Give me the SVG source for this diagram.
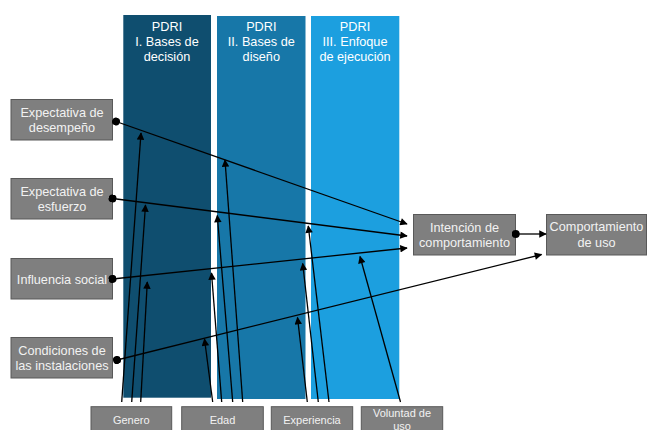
<svg xmlns="http://www.w3.org/2000/svg" width="647" height="430" viewBox="0 0 647 430">
<style>
.col{stroke:none}
.box{fill:#7f7f7f;stroke:#595959;stroke-width:1}
.t{font-family:"Liberation Sans",Arial,sans-serif;font-size:12.7px;fill:#f2f2f2;text-anchor:middle}
.ts{font-family:"Liberation Sans",Arial,sans-serif;font-size:11px;fill:#f2f2f2;text-anchor:middle}
.ct{font-family:"Liberation Sans",Arial,sans-serif;font-size:12.7px;fill:#ffffff;text-anchor:middle}
.c{fill:none;stroke:#000;stroke-width:1.3}
.a{marker-end:url(#arr)}
.d{marker-start:url(#dot)}
</style>
<defs>
<marker id="arr" viewBox="0 0 10 10" refX="9" refY="5" markerWidth="9" markerHeight="7.5" markerUnits="userSpaceOnUse" orient="auto">
<path d="M0,0 L10,5 L0,10 Z" fill="#000"/>
</marker>
<marker id="dot" viewBox="0 0 10 10" refX="5" refY="5" markerWidth="8" markerHeight="8" markerUnits="userSpaceOnUse" orient="auto">
<circle cx="5" cy="5" r="5" fill="#000"/>
</marker>
</defs>
<rect width="647" height="430" fill="#fff"/>

<g id="col1">
<rect class="col" x="123.3" y="15" width="87.7" height="382.7" fill="#0f4e6f"/>
<text class="ct" x="167" y="30.5">PDRI</text>
<text class="ct" x="167" y="45.5">I. Bases de</text>
<text class="ct" x="167" y="60.5">decisión</text>
</g>
<g id="col2">
<rect class="col" x="217" y="16" width="88.5" height="383" fill="#1777a8"/>
<text class="ct" x="261.3" y="31">PDRI</text>
<text class="ct" x="261.3" y="46">II. Bases de</text>
<text class="ct" x="261.3" y="61">diseño</text>
</g>
<g id="col3">
<rect class="col" x="311" y="16" width="88.3" height="383" fill="#1c9fdf"/>
<text class="ct" x="355" y="31">PDRI</text>
<text class="ct" x="355" y="46">III. Enfoque</text>
<text class="ct" x="355" y="61">de ejecución</text>
</g>

<g id="desempeno">
<rect class="box" x="11" y="99.5" width="101.5" height="40.5"/>
<text class="t" x="62" y="116.5">Expectativa de</text>
<text class="t" x="62" y="132">desempeño</text>
</g>
<g id="esfuerzo">
<rect class="box" x="11" y="178.5" width="101.5" height="40.5"/>
<text class="t" x="62" y="195.5">Expectativa de</text>
<text class="t" x="62" y="211">esfuerzo</text>
</g>
<g id="influencia">
<rect class="box" x="11" y="258.5" width="101.5" height="40.5"/>
<text class="t" x="62" y="283.5">Influencia social</text>
</g>
<g id="condiciones">
<rect class="box" x="11" y="337.5" width="101.5" height="40.5"/>
<text class="t" x="62" y="354.5">Condiciones de</text>
<text class="t" x="62" y="370">las instalaciones</text>
</g>

<g id="intencion">
<rect class="box" x="413.5" y="214.5" width="102" height="40.5"/>
<text class="t" x="464.5" y="231.5">Intención de</text>
<text class="t" x="464.5" y="246.5">comportamiento</text>
</g>
<g id="comportamiento">
<rect class="box" x="546.5" y="214.5" width="100" height="40.5"/>
<text class="t" x="596.5" y="230.5">Comportamiento</text>
<text class="t" x="596.5" y="246.5">de uso</text>
</g>

<g id="genero">
<rect class="box" x="91" y="406.7" width="80.7" height="27"/>
<text class="ts" x="131.3" y="424">Genero</text>
</g>
<g id="edad">
<rect class="box" x="181.7" y="406.7" width="81.6" height="27"/>
<text class="ts" x="222.5" y="424">Edad</text>
</g>
<g id="experiencia">
<rect class="box" x="271.3" y="406.7" width="81.4" height="27"/>
<text class="ts" x="312" y="424">Experiencia</text>
</g>
<g id="voluntad">
<rect class="box" x="361.3" y="406.7" width="81.4" height="27"/>
<text class="ts" x="402" y="417">Voluntad de</text>
<text class="ts" x="402" y="429.5">uso</text>
</g>

<g id="connectors">
<line class="c a d" x1="116" y1="121.5" x2="407" y2="224"/>
<line class="c a d" x1="112.5" y1="198.5" x2="407" y2="236"/>
<line class="c a d" x1="112.5" y1="279" x2="407" y2="248"/>
<line class="c a d" x1="117" y1="360" x2="541.5" y2="254.5"/>
<line class="c a d" x1="515.7" y1="234" x2="546" y2="234"/>

<line class="c a" x1="121.7" y1="402" x2="141" y2="133"/>
<line class="c a" x1="131.7" y1="402" x2="145.5" y2="205"/>
<line class="c a" x1="140.7" y1="402" x2="147.3" y2="282"/>

<line class="c a" x1="212.7" y1="402" x2="204.5" y2="339"/>
<line class="c a" x1="221.7" y1="402" x2="211.5" y2="273"/>
<line class="c a" x1="232.7" y1="402" x2="217.3" y2="215.5"/>
<line class="c a" x1="242.7" y1="402" x2="225" y2="160"/>

<line class="c a" x1="307.3" y1="402" x2="297.5" y2="317.5"/>
<line class="c a" x1="318.3" y1="402" x2="302.7" y2="263.5"/>
<line class="c a" x1="329" y1="402" x2="308.3" y2="226"/>

<line class="c a" x1="400.5" y1="402" x2="360" y2="256.5"/>
</g>
</svg>
